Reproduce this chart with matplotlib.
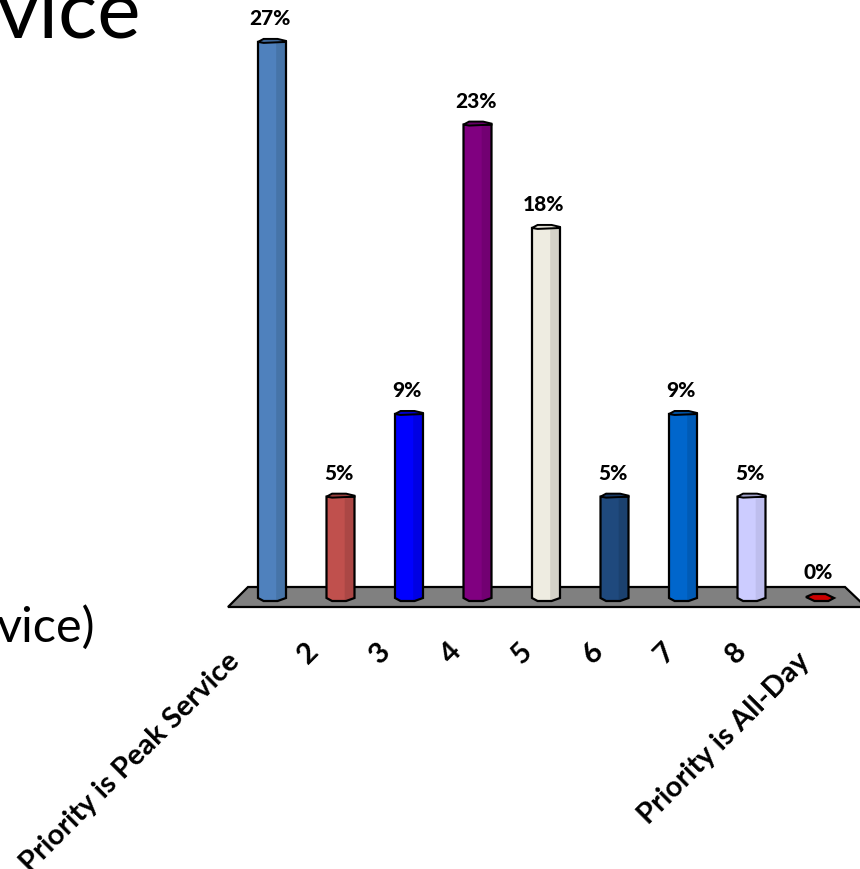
import matplotlib
matplotlib.use("Agg")
import matplotlib.pyplot as plt
from matplotlib.patches import Polygon

## Chart values
categories = ["Priority is Peak Service", "2", "3", "4", "5", "6", "7", "8", "Priority is All-Day"]
percents = [27, 5, 9, 23, 18, 5, 9, 5, 0]
percent_labels = ["27%", "5%", "9%", "23%", "18%", "5%", "9%", "5%", "0%"]

## Bar colours: front, shaded side, cap
front_colors = ["#4F81BD", "#C0504D", "#0000FF", "#800080", "#EEECE1", "#1F497D", "#0066CC", "#CCCCFF", "#CC0000"]
side_colors = ["#4674A8", "#AB4745", "#0000E3", "#720072", "#D4D2C8", "#1B416F", "#005BB6", "#BEBEEE", "#B60000"]
cap_colors = ["#3F6797", "#9A403E", "#0000CC", "#660066", "#E0DED4", "#193A64", "#0052A3", "#A3A3CC", "#CC0000"]

## Scale of the picture
px_per_cat = 68.5
px_per_pct = 20.67
x0_px = 272
y0_px = 600
W, H = 860, 869

fig = plt.figure(figsize=(8.6, 8.69), dpi=100)
ax = fig.add_axes([0, 0, 1, 1])
ax.set_xlim(-x0_px / px_per_cat, (W - x0_px) / px_per_cat)
ax.set_ylim((y0_px - H) / px_per_pct, y0_px / px_per_pct)
ax.axis("off")

plt.rcParams["font.family"] = ["Lato", "DejaVu Sans"]

def dx(px):
    return px / px_per_cat

def dy(px):
    return px / px_per_pct

## Grey floor
floor = Polygon([(dx(228 - x0_px), dy(y0_px - 607)), (dx(248 - x0_px), dy(y0_px - 587)),
                 (dx(845 - x0_px), dy(y0_px - 587)), (dx(866 - x0_px), dy(y0_px - 607))],
                closed=True, facecolor="#808080", edgecolor="black", linewidth=1.6, zorder=1)
ax.add_patch(floor)

## Bars
half = dx(14)
for i, v in enumerate(percents):
    if v == 0:
        # flat disc for the empty bar
        disc = [(i - half, dy(3)), (i - half * 0.5, dy(6)), (i + half * 0.4, dy(6)), (i + half, dy(2)),
                (i + half * 0.6, dy(-1)), (i - half * 0.4, dy(-1))]
        ax.add_patch(Polygon(disc, closed=True, facecolor=front_colors[i], edgecolor="black", linewidth=1.6, zorder=3))
        ax.text(i - dx(2), dy(18), percent_labels[i], ha="center", va="bottom", fontsize=15, fontweight="black", zorder=5)
        continue
    body = [(i - half, v), (i + half, v), (i + half, dy(2)), (i + half * 0.4, dy(-1)),
            (i - half * 0.6, dy(-1)), (i - half, dy(2))]
    side = [(i + half * 0.3, v), (i + half, v), (i + half, dy(2)), (i + half * 0.4, dy(-1)), (i + half * 0.3, dy(-1))]
    cap = [(i - half, v), (i - half * 0.6, v + dy(3)), (i + half * 0.4, v + dy(3)), (i + half, v + dy(1)),
           (i + half, v), (i - half * 0.6, v - dy(1))]
    ax.add_patch(Polygon(body, closed=True, facecolor=front_colors[i], edgecolor="none", zorder=3))
    ax.add_patch(Polygon(side, closed=True, facecolor=side_colors[i], edgecolor="none", zorder=3))
    ax.add_patch(Polygon(body, closed=True, facecolor="none", edgecolor="black", linewidth=1.6, zorder=4))
    ax.add_patch(Polygon(cap, closed=True, facecolor=cap_colors[i], edgecolor="black", linewidth=1.4, zorder=4))
    ax.text(i - dx(2), v + dy(14), percent_labels[i], ha="center", va="bottom", fontsize=15, fontweight="black", zorder=5)

## Rotated category labels, the long ones sit a bit further down the diagonal
for i, name in enumerate(categories):
    shift_x = -35 + 2.7 * (i - 1)
    top_px = 638
    if len(name) > 1:
        shift_x -= 8
        top_px += 10
    ax.text(i + dx(shift_x), dy(y0_px - top_px), name, rotation=45, rotation_mode="anchor", ha="right", va="top",
            fontsize=21, fontweight="bold", zorder=5)

## Left over text from the slide, cut by the crop
fig.text(141 / W, 1 - 38 / H, "vice", ha="right", va="baseline", fontsize=59, color="black")
fig.text(95 / W, 1 - 642 / H, "vice)", ha="right", va="baseline", fontsize=35, color="black")

fig.savefig("out.png", dpi=100, facecolor="white")
